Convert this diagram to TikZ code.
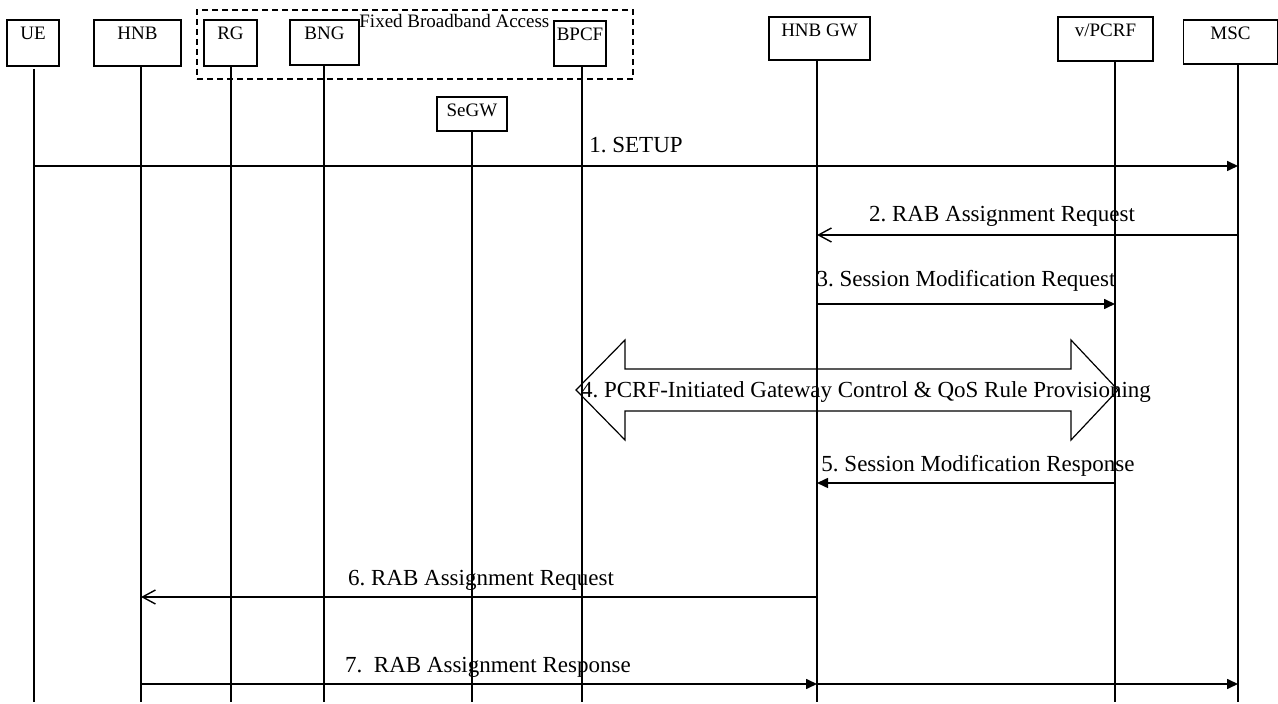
\documentclass[tikz,border=0pt]{standalone}
\usepackage{fontspec}
\setmainfont{Liberation Serif}
\usetikzlibrary{arrows.meta,calc}
\newcommand{\boxfont}{\fontsize{9.5}{11}\selectfont}
\newcommand{\msgfont}{\fontsize{11.5}{13}\selectfont}
\frenchspacing

\begin{document}
\begin{tikzpicture}[x=0.5pt,y=-0.5pt,
    ent/.style={draw,line width=0.55pt,inner sep=0pt},
    enttxt/.style={anchor=north,inner sep=3.4pt,font=\boxfont},
    life/.style={line width=0.6pt},
    msg/.style={line width=0.8pt,-{Triangle[length=5.5pt,width=5pt]}},
    msgopen/.style={line width=0.8pt,-{Straight Barb[length=6.5pt,width=7pt,line width=0.7pt]}},
    lbl/.style={font=\msgfont,anchor=base,inner sep=0pt}]
    \useasboundingbox (0,0) rectangle (1278,704);
    \node[draw,dashed,dash pattern=on 3pt off 2pt,line width=0.55pt,minimum width=218pt,minimum height=34.5pt] (fba) at (415,44.5) {};
    \node[font=\boxfont,anchor=base west,inner sep=0pt] (fbatxt) at (359,27.5) {Fixed Broadband Access};
    \foreach \nm/\txt/\x/\y/\w/\h in {ue/UE/33/43/26/23, hnb/HNB/137.5/43/43.5/23, rg/RG/230.5/43/26.5/23,
        bng/BNG/324.5/42.5/34.5/22.5, bpcf/BPCF/580/43.5/26/22.5, segw/SeGW/472/114/35/17,
        hnbgw/HNB GW/819.5/38.5/50.5/21.5, vpcrf/{v/PCRF}/1105.5/39/47.5/22, msc/MSC/1230.5/42/47/22}
        {\node[ent,minimum width=\w pt,minimum height=\h pt,label={[enttxt]north:\txt}] (\nm) at (\x,\y) {};}
    \foreach \nm/\x/\y in {ue/34/69, hnb/141/66, rg/231/66, bng/324/65, bpcf/582/66, segw/472/131,
        hnbgw/817/60, vpcrf/1115/61, msc/1238/64}
        {\coordinate (\nm T) at (\x,\y);
         \coordinate (\nm B) at (\x,702);
         \draw[life] (\nm T) -- (\nm B);}
    \foreach \r/\y in {1/166,2/235,3/304,4/390,5/483,6/597,7/684}
        {\coordinate (r\r) at (0,\y);}
    \draw[msg] (ueT |- r1) -- node[lbl,yshift=6.5pt] (l1) {1. SETUP} (mscT |- r1);
    \draw[msgopen] (mscT |- r2) -- node[lbl,yshift=6.5pt,xshift=-12.75pt] (l2) {2. RAB Assignment Request} (hnbgwT |- r2);
    \draw[msg] (hnbgwT |- r3) -- node[lbl,yshift=8.5pt] (l3) {3. Session Modification Request} (vpcrfT |- r3);
    \coordinate (d4l) at ($(bpcfT |- r4)+(-6,0)$);
    \coordinate (d4r) at ($(vpcrfT |- r4)+(3,0)$);
    \draw[line width=0.6pt] (d4l) -- ++(49,-50) -- ++(0,29) -- ($(d4r)+(-47,-21)$) -- ++(0,-29) -- (d4r)
        -- ++(-47,50) -- ++(0,-29) -- ($(d4l)+(49,21)$) -- ++(0,29) -- cycle;
    \node[lbl] (l4) at ($(d4l)!0.5!(d4r)+(19,8)$) {4. PCRF-Initiated Gateway Control \& QoS Rule Provisioning};
    \draw[msg] (vpcrfT |- r5) -- node[lbl,yshift=5.5pt,xshift=6pt] (l5) {5. Session Modification Response} (hnbgwT |- r5);
    \draw[msgopen] (hnbgwT |- r6) -- node[lbl,yshift=5.5pt,xshift=1pt] (l6) {6. RAB Assignment Request} (hnbT |- r6);
    \draw[msg] (hnbT |- r7) -- node[lbl,yshift=6pt,xshift=4.5pt] (l7) {7.~ RAB Assignment Response} (hnbgwT |- r7);
    \draw[msg] (hnbgwT |- r7) -- (mscT |- r7);
\end{tikzpicture}
\end{document}
